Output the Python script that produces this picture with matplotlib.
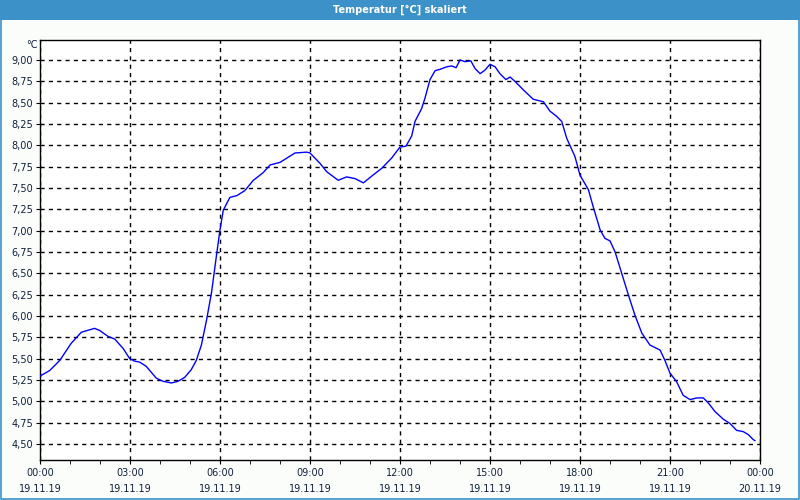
import matplotlib
matplotlib.use("Agg")
import matplotlib.pyplot as plt
from matplotlib.patches import Rectangle
from matplotlib.ticker import FixedLocator, MultipleLocator, FuncFormatter

# hours since 19.11.19 00:00 and temperature in °C
hours = [0.02, 0.32, 0.66, 1.04, 1.38, 1.82, 1.99, 2.27, 2.49, 2.77, 2.99, 3.16,
         3.32, 3.54, 3.88, 4.10, 4.38, 4.60, 4.82, 5.04, 5.21, 5.38, 5.55, 5.72,
         5.89, 6.00, 6.11, 6.33, 6.56, 6.83, 7.11, 7.44, 7.67, 8.00, 8.50, 8.89,
         9.00, 9.33, 9.56, 9.94, 10.22, 10.50, 10.78, 11.06, 11.39, 11.72, 12.00,
         12.20, 12.39, 12.50, 12.72, 12.83, 13.00, 13.17, 13.33, 13.56, 13.72,
         13.87, 14.00, 14.17, 14.36, 14.50, 14.67, 14.83, 15.00, 15.17, 15.33,
         15.53, 15.67, 15.83, 16.11, 16.44, 16.78, 17.00, 17.22, 17.39, 17.56,
         17.83, 18.00, 18.28, 18.44, 18.67, 18.83, 19.00, 19.17, 19.39, 19.61,
         19.83, 20.06, 20.33, 20.67, 20.83, 21.00, 21.22, 21.44, 21.67, 21.89,
         22.11, 22.28, 22.50, 22.78, 23.00, 23.22, 23.44, 23.61, 23.78, 23.83]
temps = [5.30, 5.36, 5.48, 5.68, 5.81, 5.855, 5.83, 5.76, 5.73, 5.62, 5.50, 5.47,
         5.46, 5.41, 5.27, 5.235, 5.215, 5.235, 5.28, 5.37, 5.48, 5.66, 5.95, 6.28,
         6.73, 7.01, 7.24, 7.39, 7.41, 7.47, 7.59, 7.68, 7.77, 7.80, 7.91, 7.92,
         7.91, 7.79, 7.69, 7.59, 7.63, 7.61, 7.56, 7.64, 7.73, 7.85, 7.98,
         7.99, 8.11, 8.28, 8.43, 8.55, 8.77, 8.875, 8.89, 8.92, 8.93,
         8.91, 9.00, 8.98, 8.99, 8.90, 8.84, 8.88, 8.95, 8.92, 8.84,
         8.77, 8.80, 8.75, 8.65, 8.54, 8.51, 8.40, 8.34, 8.28, 8.08,
         7.87, 7.65, 7.48, 7.28, 7.01, 6.91, 6.88, 6.75, 6.50, 6.25,
         6.01, 5.80, 5.66, 5.60, 5.48, 5.33, 5.23, 5.07, 5.02, 5.04,
         5.04, 4.98, 4.88, 4.79, 4.74, 4.66, 4.645, 4.61, 4.55, 4.54]

tick_hours = [0, 3, 6, 9, 12, 15, 18, 21, 24]
tick_labels = ["00:00\n19.11.19", "03:00\n19.11.19", "06:00\n19.11.19",
               "09:00\n19.11.19", "12:00\n19.11.19", "15:00\n19.11.19",
               "18:00\n19.11.19", "21:00\n19.11.19", "00:00\n20.11.19"]

title = "Temperatur [°C] skaliert"
blue = "#3c91c8"
txt = "#10203a"

plt.rcParams["font.family"] = ["DejaVu Sans"]
fig = plt.figure(figsize=(8, 5), dpi=100, facecolor="#fbfdfb")

# title bar and window frame
fig.patches.append(Rectangle((0, 1 - 20 / 500), 1, 20 / 500, transform=fig.transFigure,
                             facecolor=blue, edgecolor="none", zorder=0))
fig.patches.append(Rectangle((0.0008, 0.0012), 0.9984, 0.997, transform=fig.transFigure,
                             facecolor="none", edgecolor=blue, linewidth=1.2, zorder=1))
fig.text(0.5, 1 - 10 / 500, title, color="white", fontsize=7, fontweight="bold",
         ha="center", va="center")

ax = fig.add_axes([40 / 800, 40 / 500, 720 / 800, 420 / 500])
ax.set_facecolor("white")
ax.plot(hours, temps, color="#0000ff", linewidth=1, zorder=3)

ax.set_xlim(0, 24)
ax.set_ylim(4.3125, 9.234)
ax.xaxis.set_major_locator(FixedLocator(tick_hours))
ax.set_xticklabels(tick_labels)
ax.xaxis.set_minor_locator(MultipleLocator(1))
ax.yaxis.set_major_locator(MultipleLocator(0.25))
ax.yaxis.set_major_formatter(FuncFormatter(lambda v, p: f"{v:.2f}".replace(".", ",")))

ax.grid(True, which="major", color="black", linestyle=(0, (3, 3)), linewidth=1)
ax.tick_params(axis="x", which="major", length=3, pad=3, labelsize=7,
               labelcolor=txt)
ax.tick_params(axis="x", which="minor", length=3)
ax.tick_params(axis="y", length=3, pad=2, labelsize=7, labelcolor=txt)
for lab in ax.get_xticklabels():
    lab.set_linespacing(1.75)
for s in ax.spines.values():
    s.set_color("black")
    s.set_linewidth(1)

fig.text(38 / 800, 1 - 45 / 500, "°C", fontsize=7, color=txt, ha="right", va="center")

fig.savefig("out.png", dpi=100, facecolor=fig.get_facecolor())
